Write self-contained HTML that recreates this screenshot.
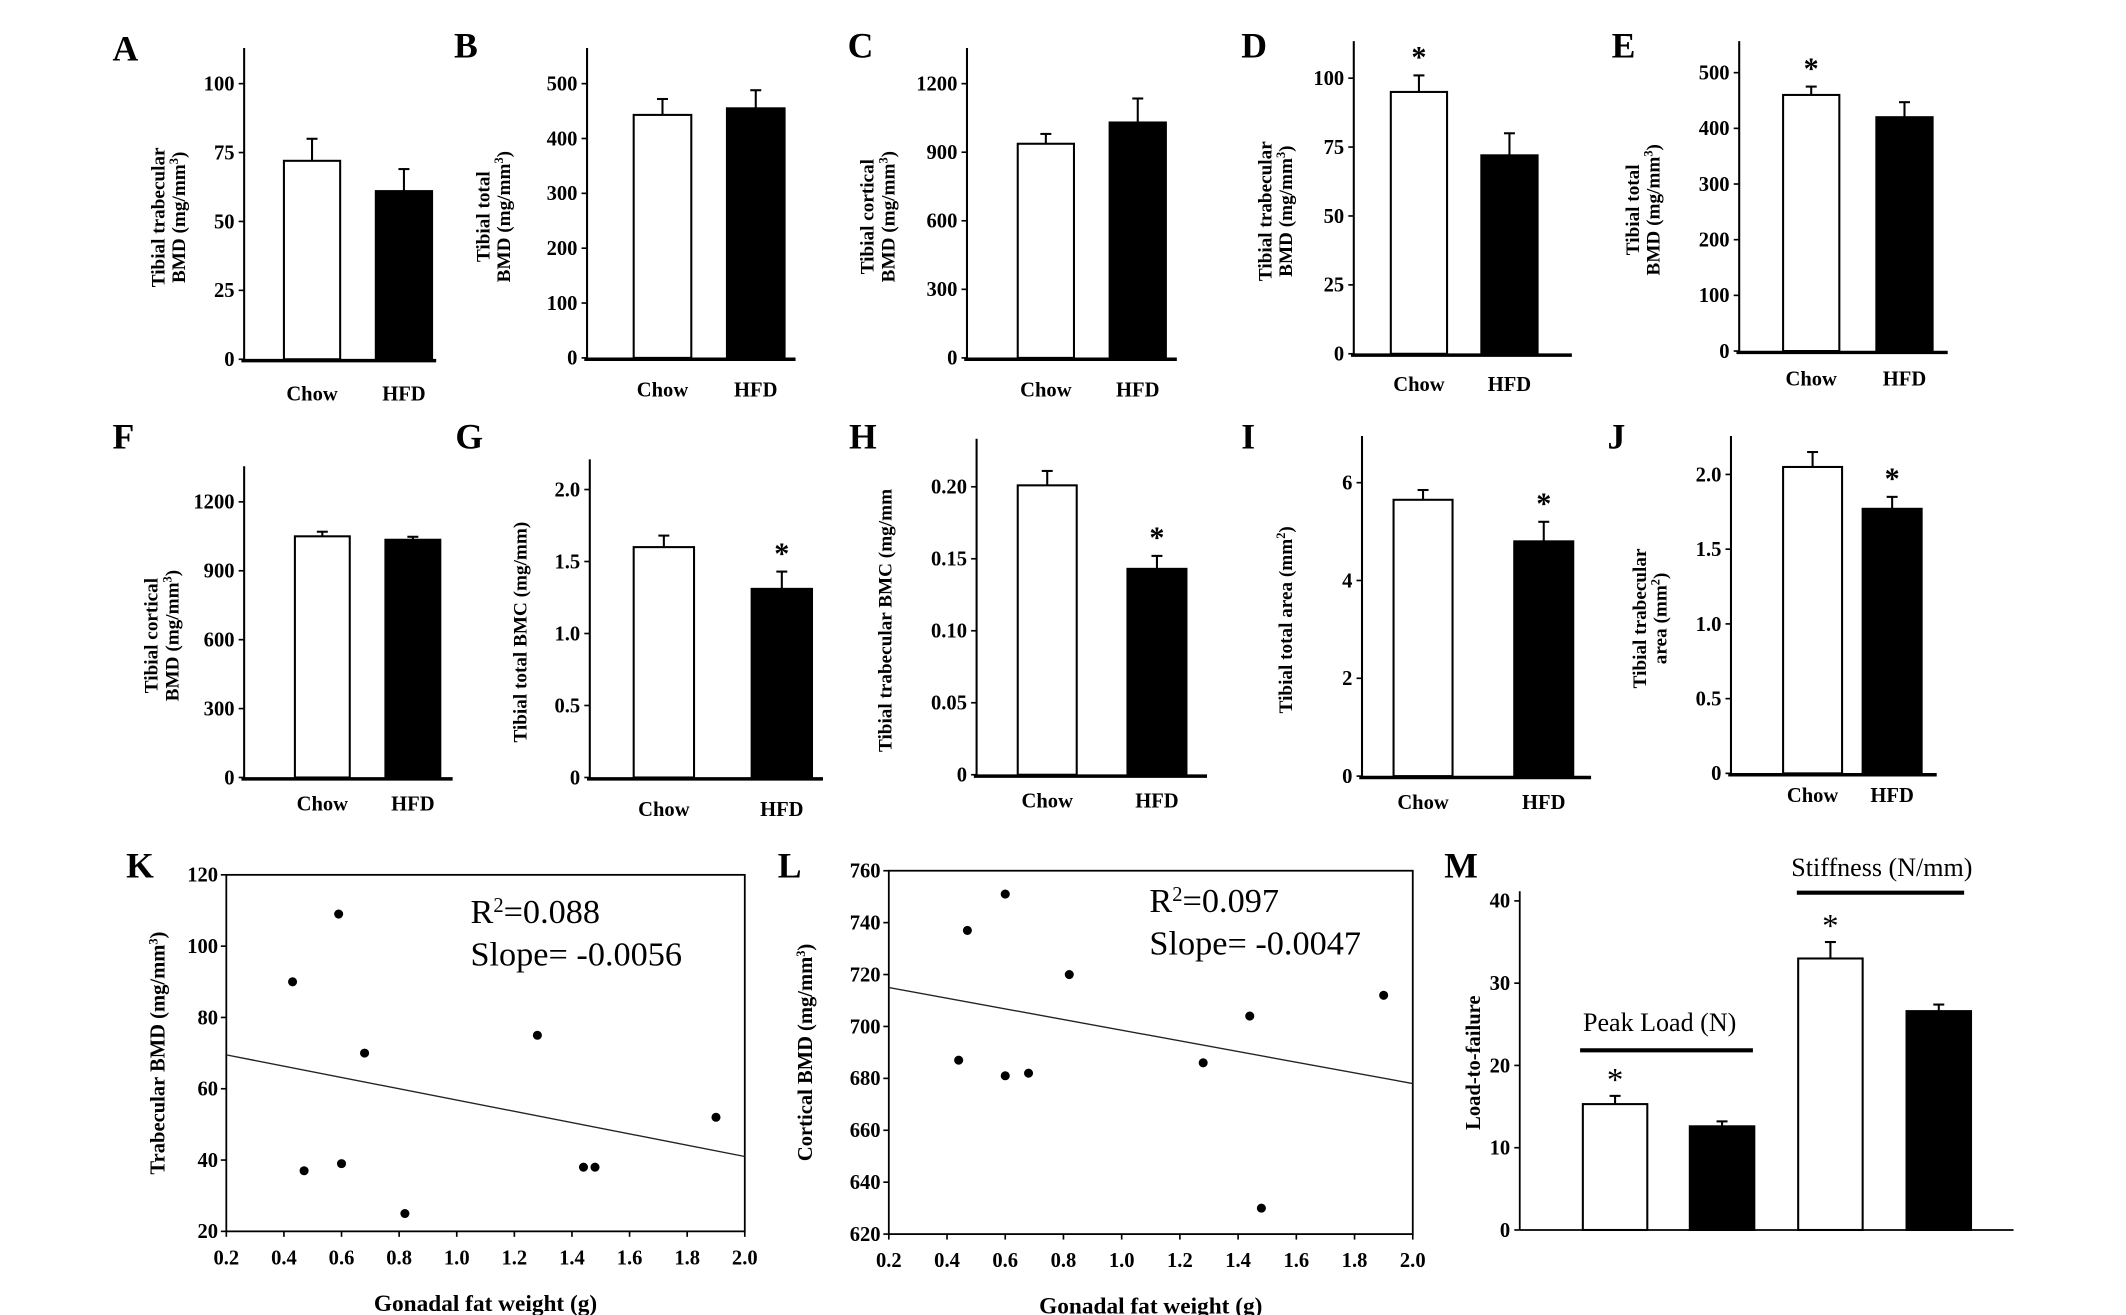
<!DOCTYPE html>
<html><head><meta charset="utf-8"><style>
html,body{margin:0;padding:0;background:#fff;}
svg{display:block;}
text{font-family:"Liberation Serif",serif;fill:#000;}
</style></head><body>
<svg id="fig" width="2126" height="1315" viewBox="0 0 1550 959" preserveAspectRatio="none" xmlns="http://www.w3.org/2000/svg"></svg>
<script>
// ---- bar panel data ----
const groups = ["Chow", "HFD"];
const valsA = [72, 61];      const errA = [80, 69];
const ticksA = [0, 25, 50, 75, 100];
const valsB = [443, 455];    const errB = [472, 488];
const ticksB = [0, 100, 200, 300, 400, 500];
const valsC = [937, 1030];   const errC = [980, 1135];
const ticksC = [0, 300, 600, 900, 1200];
const valsD = [95, 72];      const errD = [101, 80];
const ticksD = [0, 25, 50, 75, 100];
const valsE = [460, 420];    const errE = [475, 447];
const ticksE = [0, 100, 200, 300, 400, 500];
const valsF = [1050, 1035];  const errF = [1070, 1048];
const ticksF = [0, 300, 600, 900, 1200];
const valsG = [1.60, 1.31];  const errG = [1.68, 1.43];
const ticksG = ["0", "0.5", "1.0", "1.5", "2.0"];
const valsH = [0.201, 0.143]; const errH = [0.211, 0.152];
const ticksH = ["0", "0.05", "0.10", "0.15", "0.20"];
const valsI = [5.65, 4.8];   const errI = [5.85, 5.2];
const ticksI = [0, 2, 4, 6];
const valsJ = [2.05, 1.77];  const errJ = [2.15, 1.85];
const ticksJ = ["0", "0.5", "1.0", "1.5", "2.0"];
// ---- scatter data ----
const fatK = [0.43, 0.59, 0.68, 0.47, 0.60, 0.82, 1.28, 1.44, 1.48, 1.90];
const bmdK = [90, 109, 70, 37, 39, 25, 75, 38, 38, 52];
const fitK = [69.5, 41];
const ticksKy = [20, 40, 60, 80, 100, 120];
const fatL = [0.44, 0.47, 0.60, 0.60, 0.68, 0.82, 1.28, 1.44, 1.48, 1.90];
const bmdL = [687, 737, 751, 681, 682, 720, 686, 704, 630, 712];
const fitL = [715, 678];
const ticksLy = [620, 640, 660, 680, 700, 720, 740, 760];
const ticksX = ["0.2", "0.4", "0.6", "0.8", "1.0", "1.2", "1.4", "1.6", "1.8", "2.0"];
// ---- panel M ----
const mCats = ["peak-chow", "peak-hfd", "stiff-chow", "stiff-hfd"];
const mVals = [15.3, 12.6, 33, 26.6];
const mErr = [16.3, 13.2, 35, 27.4];
const ticksM = [0, 10, 20, 30, 40];

const svg = document.getElementById('fig');
const NS = "http://www.w3.org/2000/svg";
function el(tag, attrs, parent, txt) {
  const e = document.createElementNS(NS, tag);
  for (const k in attrs) e.setAttribute(k, attrs[k]);
  if (txt !== undefined) e.textContent = txt;
  (parent || svg).appendChild(e);
  return e;
}
function tickTxt(g, x, y, s) {
  const t = el('text', {x: x, y: y + 5, 'text-anchor': 'end', 'font-size': 15, 'font-weight': 'bold'}, g, s);
  
  
}
function barPanel(id, letter, lx, ly, o, vals, errs, ticks, stars, titles, tx) {
  const g = el('g', {});
  
  
  const L = el('text', {x: lx, y: ly, 'font-size': 26, 'font-weight': 'bold'}, g, letter);
  
  
  const tv = ticks.map(Number);
  const tmax = tv[tv.length - 1];
  const Y = v => o.y0 - (v / tmax) * (o.y0 - o.yt);
  const ax = el('line', {x1: o.ax, y1: o.top, x2: o.ax, y2: o.y0 + 2, stroke: '#000', 'stroke-width': 1.5}, g);
  
  
  ticks.forEach(t => {
    const yy = Y(Number(t));
    el('line', {x1: o.ax - 4, y1: yy, x2: o.ax, y2: yy, stroke: '#000', 'stroke-width': 1.2}, g);
    tickTxt(g, o.ax - 7, yy, String(t));
  });
  vals.forEach((v, i) => {
    const x = o.bx[i];
    const ey = Y(errs[i]);
    const cx = x + o.bw / 2;
    const e1 = el('line', {x1: cx, y1: ey, x2: cx, y2: Y(v), stroke: '#000', 'stroke-width': 1.5}, g);
    
    
    el('line', {x1: cx - 4, y1: ey, x2: cx + 4, y2: ey, stroke: '#000', 'stroke-width': 1.5}, g);
    const r = el('rect', {x: x, y: Y(v), width: o.bw, height: o.y0 - Y(v), fill: i === 0 ? '#fff' : '#000', stroke: '#000', 'stroke-width': 1.5}, g);
    
    
    if (stars[i]) {
      const s = el('text', {x: cx, y: ey - 6, 'text-anchor': 'middle', 'font-size': 22, 'font-weight': 'bold'}, g, '*');
      
      
    }
    const gl = el('text', {x: cx, y: o.lab, 'text-anchor': 'middle', 'font-size': 15, 'font-weight': 'bold'}, g, groups[i]);
    
    
  });
  const xa = el('line', {x1: o.ax - 2, y1: o.y0 + 1, x2: o.xe, y2: o.y0 + 1, stroke: '#000', 'stroke-width': 2.5}, g);
  
  
  const cy = (o.y0 + o.top) / 2 + 10;
  titles.forEach((t, i) => {
    const yt = el('text', {x: 0, y: 0, transform: 'translate(' + (tx + i * 15) + ',' + cy + ') rotate(-90)', 'text-anchor': 'middle', 'font-size': 14, 'font-weight': 'bold'}, g);
    
    
    yt.innerHTML = t;
  });
}
const mm3 = 'BMD (mg/mm<tspan baseline-shift="super" font-size="9">3</tspan>)';
barPanel('a', 'A', 82, 44, {ax: 178, top: 35, y0: 262, yt: 61, bx: [207, 274], bw: 41, xe: 318, lab: 292}, valsA, errA, ticksA, [0, 0], ['Tibial trabecular', mm3], 120);
barPanel('b', 'B', 331, 42, {ax: 428, top: 35, y0: 261, yt: 61, bx: [462, 530], bw: 42, xe: 580, lab: 289}, valsB, errB, ticksB, [0, 0], ['Tibial total', mm3], 357);
barPanel('c', 'C', 618, 42, {ax: 705, top: 35, y0: 261, yt: 61, bx: [742, 809], bw: 41, xe: 858, lab: 289}, valsC, errC, ticksC, [0, 0], ['Tibial cortical', mm3], 637);
barPanel('d', 'D', 905, 42, {ax: 987, top: 30, y0: 258, yt: 57, bx: [1014, 1080], bw: 41, xe: 1146, lab: 285}, valsD, errD, ticksD, [1, 0], ['Tibial trabecular', mm3], 927);
barPanel('e', 'E', 1175, 42, {ax: 1268, top: 30, y0: 256, yt: 53, bx: [1300, 1368], bw: 41, xe: 1420, lab: 281}, valsE, errE, ticksE, [1, 0], ['Tibial total', mm3], 1195);
barPanel('f', 'F', 82, 327, {ax: 178, top: 340, y0: 567, yt: 366, bx: [215, 281], bw: 40, xe: 330, lab: 591}, valsF, errF, ticksF, [0, 0], ['Tibial cortical', mm3], 115);
barPanel('g', 'G', 332, 327, {ax: 430, top: 335, y0: 567, yt: 357, bx: [462, 548], bw: 44, xe: 600, lab: 595}, valsG, errG, ticksG, [0, 1], ['Tibial total BMC (mg/mm)'], 384);
barPanel('h', 'H', 619, 327, {ax: 712, top: 320, y0: 565, yt: 355, bx: [742, 822], bw: 43, xe: 880, lab: 589}, valsH, errH, ticksH, [0, 1], ['Tibial trabecular BMC (mg/mm'], 650);
barPanel('i', 'I', 905, 327, {ax: 993, top: 318, y0: 566, yt: 352, bx: [1016, 1104], bw: 43, xe: 1160, lab: 590}, valsI, errI, ticksI, [0, 1], ['Tibial total area (mm<tspan baseline-shift="super" font-size="9">2</tspan>)'], 942);
barPanel('j', 'J', 1172, 327, {ax: 1262, top: 318, y0: 564, yt: 346, bx: [1300, 1358], bw: 43, xe: 1412, lab: 585}, valsJ, errJ, ticksJ, [0, 1], ['Tibial trabecular', 'area (mm<tspan baseline-shift="super" font-size="9">2</tspan>)'], 1200);

function scatter(id, letter, lx, ly, o, xs, ys, fit, yt, stats, ytitle) {
  const g = el('g', {});
  
  
  const L = el('text', {x: lx, y: ly, 'font-size': 26, 'font-weight': 'bold'}, g, letter);
  
  
  const X = v => o.x0 + (v - 0.2) / 1.8 * (o.x1 - o.x0);
  const ymin = yt[0], ymax = yt[yt.length - 1];
  const Y = v => o.y0 - (v - ymin) / (ymax - ymin) * (o.y0 - o.y1);
  const box = el('rect', {x: o.x0, y: o.y1, width: o.x1 - o.x0, height: o.y0 - o.y1, fill: 'none', stroke: '#000', 'stroke-width': 1.3}, g);
  
  
  yt.forEach(t => {
    el('line', {x1: o.x0 - 4, y1: Y(t), x2: o.x0, y2: Y(t), stroke: '#000', 'stroke-width': 1.2}, g);
    tickTxt(g, o.x0 - 6, Y(t), String(t));
  });
  ticksX.forEach(t => {
    const xx = X(Number(t));
    el('line', {x1: xx, y1: o.y0, x2: xx, y2: o.y0 + 4, stroke: '#000', 'stroke-width': 1.2}, g);
    const tl = el('text', {x: xx, y: o.y0 + 24, 'text-anchor': 'middle', 'font-size': 15, 'font-weight': 'bold'}, g, t);
    
    
  });
  const fl = el('line', {x1: X(0.2), y1: Y(fit[0]), x2: X(2.0), y2: Y(fit[1]), stroke: '#222', 'stroke-width': 1}, g);
  
  
  xs.forEach((v, i) => {
    const c = el('circle', {cx: X(v), cy: Y(ys[i]), r: 3.3, fill: '#000'}, g);
    
    
  });
  const s1 = el('text', {x: o.sx, y: o.sy, 'font-size': 25}, g);
  s1.innerHTML = 'R<tspan baseline-shift="super" font-size="15">2</tspan>=' + stats[0];
  
  
  const s2 = el('text', {x: o.sx, y: o.sy + 31, 'font-size': 25}, g, 'Slope= ' + stats[1]);
  
  
  const xt = el('text', {x: (o.x0 + o.x1) / 2, y: o.y0 + 58, 'text-anchor': 'middle', 'font-size': 17, 'font-weight': 'bold'}, g, 'Gonadal fat weight (g)');
  
  
  const yl = el('text', {x: 0, y: 0, transform: 'translate(' + o.tx + ',' + ((o.y0 + o.y1) / 2) + ') rotate(-90)', 'text-anchor': 'middle', 'font-size': 15, 'font-weight': 'bold'}, g);
  yl.innerHTML = ytitle;
  
  
}
scatter('k', 'K', 92, 640, {x0: 165, x1: 543, y0: 898, y1: 638, sx: 343, sy: 673, tx: 120}, fatK, bmdK, fitK, ticksKy, ['0.088', '-0.0056'], 'Trabecular BMD (mg/mm<tspan baseline-shift="super" font-size="9">3</tspan>)');
scatter('l', 'L', 567, 640, {x0: 648, x1: 1030, y0: 900, y1: 635, sx: 838, sy: 665, tx: 592}, fatL, bmdL, fitL, ticksLy, ['0.097', '-0.0047'], 'Cortical BMD (mg/mm<tspan baseline-shift="super" font-size="9">3</tspan>)');

(function () {
  const g = el('g', {});
  
  
  const L = el('text', {x: 1053, y: 640, 'font-size': 26, 'font-weight': 'bold'}, g, 'M');
  
  
  const ax = 1108, y0 = 897, yt = 657, top = 650;
  const Y = v => y0 - v / 40 * (y0 - yt);
  el('line', {x1: ax, y1: top, x2: ax, y2: y0, stroke: '#000', 'stroke-width': 1.3}, g);
  ticksM.forEach(t => {
    el('line', {x1: ax - 4, y1: Y(t), x2: ax, y2: Y(t), stroke: '#000', 'stroke-width': 1.2}, g);
    tickTxt(g, ax - 7, Y(t), String(t));
  });
  const bx = [1154, 1232, 1311, 1390], bw = 47;
  mVals.forEach((v, i) => {
    const cx = bx[i] + bw / 2, ey = Y(mErr[i]);
    el('line', {x1: cx, y1: ey, x2: cx, y2: Y(v), stroke: '#000', 'stroke-width': 1.5}, g);
    el('line', {x1: cx - 4, y1: ey, x2: cx + 4, y2: ey, stroke: '#000', 'stroke-width': 1.5}, g);
    const r = el('rect', {x: bx[i], y: Y(v), width: bw, height: y0 - Y(v), fill: i % 2 === 0 ? '#fff' : '#000', stroke: '#000', 'stroke-width': 1.5}, g);
    
    
    if (i % 2 === 0) {
      const s = el('text', {x: cx, y: ey - 4, 'text-anchor': 'middle', 'font-size': 24}, g, '*');
      
      
    }
  });
  el('line', {x1: ax, y1: y0, x2: 1468, y2: y0, stroke: '#000', 'stroke-width': 1.3}, g);
  el('line', {x1: 1152, y1: 766, x2: 1278, y2: 766, stroke: '#000', 'stroke-width': 3}, g);
  el('line', {x1: 1310, y1: 651, x2: 1432, y2: 651, stroke: '#000', 'stroke-width': 3}, g);
  const p = el('text', {x: 1210, y: 752, 'text-anchor': 'middle', 'font-size': 19}, g, 'Peak Load (N)');
  
  
  const s = el('text', {x: 1372, y: 639, 'text-anchor': 'middle', 'font-size': 19}, g, 'Stiffness (N/mm)');
  
  
  const yl = el('text', {x: 0, y: 0, transform: 'translate(1079,775) rotate(-90)', 'text-anchor': 'middle', 'font-size': 15, 'font-weight': 'bold'}, g, 'Load-to-failure');
  
  
})();
</script>
</body></html>
